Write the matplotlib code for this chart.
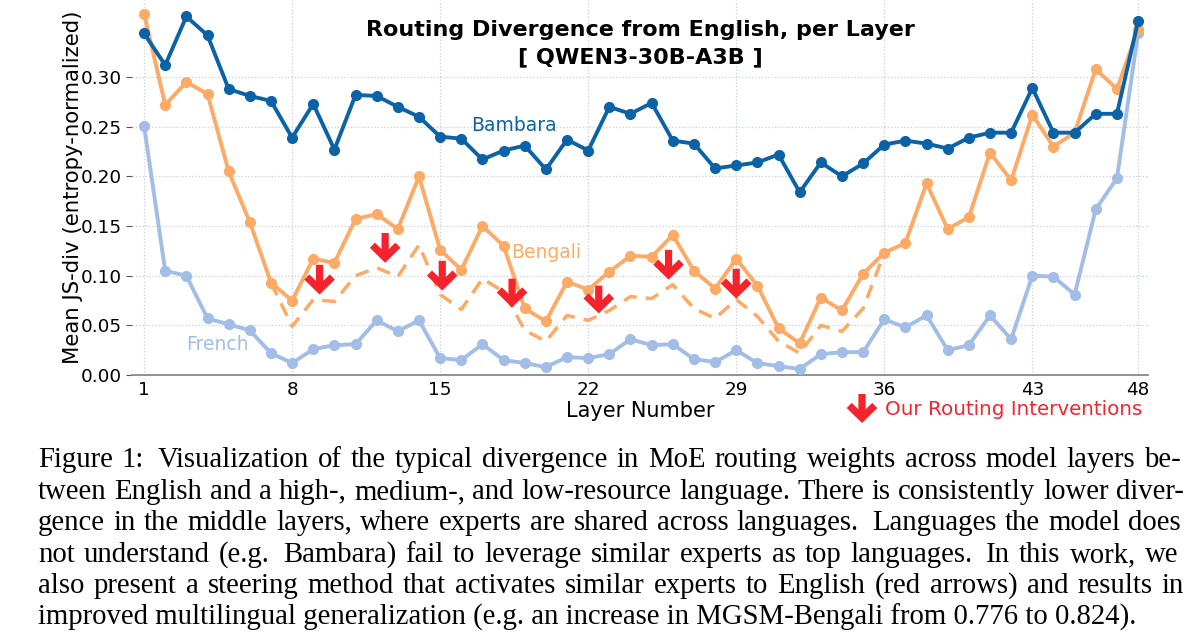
import matplotlib
matplotlib.use("Agg")
import matplotlib.pyplot as plt
import numpy as np

# ---------------- data ----------------
layers = list(range(1, 49))
bambara = [0.344, 0.312, 0.361, 0.342, 0.288, 0.281, 0.276, 0.239, 0.273, 0.227,
           0.282, 0.281, 0.270, 0.260, 0.240, 0.238, 0.217, 0.226, 0.231, 0.207,
           0.237, 0.226, 0.270, 0.263, 0.274, 0.236, 0.233, 0.208, 0.211, 0.214,
           0.222, 0.184, 0.214, 0.200, 0.213, 0.232, 0.236, 0.233, 0.228, 0.239,
           0.244, 0.244, 0.289, 0.244, 0.244, 0.263, 0.263, 0.356]
bengali = [0.364, 0.272, 0.295, 0.283, 0.205, 0.154, 0.093, 0.075, 0.117, 0.113,
           0.157, 0.162, 0.147, 0.200, 0.126, 0.106, 0.150, 0.130, 0.067, 0.054,
           0.094, 0.086, 0.104, 0.120, 0.119, 0.141, 0.105, 0.087, 0.117, 0.090,
           0.047, 0.032, 0.078, 0.065, 0.102, 0.123, 0.133, 0.193, 0.147, 0.159,
           0.224, 0.196, 0.262, 0.230, 0.244, 0.308, 0.288, 0.348]
french = [0.251, 0.105, 0.100, 0.057, 0.051, 0.045, 0.022, 0.012, 0.026, 0.030,
          0.031, 0.055, 0.044, 0.055, 0.017, 0.015, 0.031, 0.015, 0.012, 0.008,
          0.018, 0.017, 0.021, 0.036, 0.030, 0.031, 0.016, 0.013, 0.025, 0.012,
          0.009, 0.006, 0.021, 0.023, 0.023, 0.056, 0.048, 0.060, 0.025, 0.030,
          0.060, 0.036, 0.100, 0.099, 0.081, 0.167, 0.198, 0.344]
steered_layers = list(range(7, 37))
bengali_steered = [0.093, 0.049, 0.076, 0.074, 0.100, 0.108, 0.099, 0.131, 0.081, 0.066,
                   0.097, 0.084, 0.045, 0.034, 0.060, 0.055, 0.065, 0.079, 0.077, 0.091,
                   0.067, 0.057, 0.076, 0.059, 0.034, 0.022, 0.050, 0.044, 0.067, 0.123]
arrow_layers = [9.3, 12.4, 15.1, 18.4, 22.5, 25.8, 29.0]
arrow_tops = [0.111, 0.143, 0.115, 0.097, 0.090, 0.126, 0.107]
arrow_tips = [0.081, 0.113, 0.085, 0.068, 0.062, 0.096, 0.077]
xticks = [1, 8, 15, 22, 29, 36, 43, 48]
yticks = [0.00, 0.05, 0.10, 0.15, 0.20, 0.25, 0.30]

title_lines = ["Routing Divergence from English, per Layer", "[ QWEN3-30B-A3B ]"]
caption_lines = [
    "Figure 1:  Visualization of the typical divergence in MoE routing weights across model layers be-",
    "tween English and a high-, medium-, and low-resource language. There is consistently lower diver-",
    "gence in the middle layers, where experts are shared across languages.  Languages the model does",
    "not understand (e.g.  Bambara) fail to leverage similar experts as top languages.  In this work, we",
    "also present a steering method that activates similar experts to English (red arrows) and results in",
    "improved multilingual generalization (e.g. an increase in MGSM-Bengali from 0.776 to 0.824).",
]

C_BAM = "#0c62a6"
C_BEN = "#fcaa66"
C_FR = "#a2bde6"
C_RED = "#f5232b"

W, H = 1200, 641
fig = plt.figure(figsize=(W / 100, H / 100), dpi=100)
ax = fig.add_axes([132 / W, (H - 375) / H, (1148 - 132) / W, 375 / H])

ax.plot(layers, french, color=C_FR, lw=2.8, marker="o", ms=7, zorder=3)
ax.plot(layers, bengali, color=C_BEN, lw=2.8, marker="o", ms=7, zorder=3)
ax.plot(steered_layers, bengali_steered, color=C_BEN, lw=2.5, ls=(0, (4, 2.6)), zorder=3)
ax.plot(layers, bambara, color=C_BAM, lw=2.8, marker="o", ms=7, zorder=4)

arrow_style = dict(arrowstyle="->,head_length=0.45,head_width=0.46",
                   color=C_RED, lw=5.2, mutation_scale=20,
                   shrinkA=0, shrinkB=0, capstyle="butt", joinstyle="miter")
for lx, yt, yb in zip(arrow_layers, arrow_tops, arrow_tips):
    ax.annotate("", xy=(lx, yb), xytext=(lx, yt), arrowprops=arrow_style, zorder=6)

ax.text(18.5, 0.251, "Bambara", color=C_BAM, fontsize=13.5, ha="center", va="center")
ax.text(20.0, 0.123, "Bengali", color=C_BEN, fontsize=13.5, ha="center", va="center")
ax.text(4.45, 0.031, "French", color=C_FR, fontsize=13.5, ha="center", va="center")

ax.text(0.5, 1 - 30 / 375, title_lines[0], transform=ax.transAxes, ha="center", va="center",
        fontsize=16, fontweight="bold")
ax.text(0.5, 1 - 57 / 375, title_lines[1], transform=ax.transAxes, ha="center", va="center",
        fontsize=16, fontweight="bold")

ax.set_xlim(0.43, 48.47)
ax.set_ylim(0, 0.3776)
ax.set_xticks(xticks)
ax.set_yticks(yticks)
ax.set_yticklabels([f"{v:.2f}" for v in yticks])
ax.tick_params(axis="both", labelsize=13.2, colors="#555555", labelcolor="black", length=4)
ax.tick_params(axis="x", length=0, pad=4)
ax.tick_params(axis="y", pad=3)
ax.grid(True, ls=":", color="#c8cdd6", lw=0.9)
for s in ["top", "right", "left"]:
    ax.spines[s].set_visible(False)
ax.spines["bottom"].set_color("#888888")
ax.spines["bottom"].set_linewidth(1.3)
ax.set_xlabel("Layer Number", fontsize=15, labelpad=2)
ax.set_ylabel("Mean JS-div (entropy-normalized)", fontsize=15.3, labelpad=-1)

# legend-like note for interventions
ax.annotate("", xy=(862 / W, 1 - 423 / H), xytext=(862 / W, 1 - 394 / H),
            xycoords="figure fraction", textcoords="figure fraction",
            arrowprops=arrow_style)
fig.text(885 / W, 1 - 415 / H, "Our Routing Interventions", color=C_RED,
         fontsize=14.3, ha="left", va="baseline")

# ---------------- caption (justified) ----------------
fig.canvas.draw()
renderer = fig.canvas.get_renderer()
cap_font = dict(family="Liberation Serif", fontsize=20.7, color="black")
left_px, right_px = 38, 1184
baselines = [467, 499, 530, 562, 593, 625]


def width_px(s):
    t = fig.text(0, 0, s, **cap_font)
    w = t.get_window_extent(renderer).width
    t.remove()
    return w


space_w = width_px("a a") - width_px("aa")
for i, line in enumerate(caption_lines):
    yb = 1 - baselines[i] / H
    if i == len(caption_lines) - 1:
        fig.text(left_px / W, yb, line, ha="left", va="baseline", **cap_font)
        continue
    tokens = line.split(" ")
    widths = [width_px(w) if w else 0 for w in tokens]
    words = [t for t in tokens if t]
    gaps = len(tokens) - 1
    natural = sum(widths) + gaps * space_w
    extra = (right_px - left_px - natural) / max(len(words) - 1, 1)
    x = left_px
    for tk, wd in zip(tokens, widths):
        if tk:
            fig.text(x / W, yb, tk, ha="left", va="baseline", **cap_font)
            x += wd + space_w + extra
        else:
            x += space_w * 0.6

fig.savefig("out.png", dpi=100)
